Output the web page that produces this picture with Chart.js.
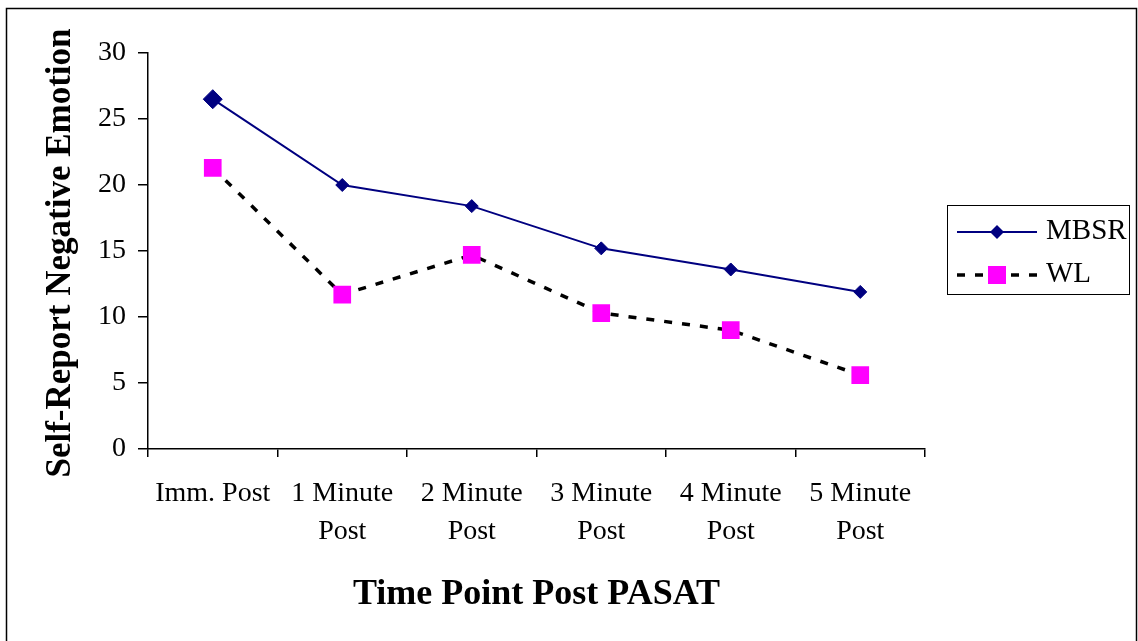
<!DOCTYPE html>
<html>
<head>
<meta charset="utf-8">
<script src="https://cdn.jsdelivr.net/npm/chart.js@4"></script>
<style>
  html, body { margin: 0; padding: 0; background: #fff; }
  #wrap { width: 1138px; height: 641px; position: relative; }
</style>
</head>
<body>
<div id="wrap"><canvas id="chart" width="1138" height="641"></canvas></div>
<script>
// --- данные ---
const categories = [['Imm. Post'], ['1 Minute', 'Post'], ['2 Minute', 'Post'], ['3 Minute', 'Post'], ['4 Minute', 'Post'], ['5 Minute', 'Post']];
const mbsrValues = [26.5, 20.0, 18.4, 15.2, 13.6, 11.9];
const wlValues = [21.3, 11.7, 14.7, 10.3, 9.0, 5.6];
const yTicks = [0, 5, 10, 15, 20, 25, 30];

const FONT = '"Liberation Serif", "Times New Roman", serif';

// рамка, подписи осей и легенда рисуются вручную
const decorPlugin = {
  id: 'decor',
  afterDraw(chart) {
    const ctx = chart.ctx;
    const area = chart.chartArea;
    ctx.save();
    // внешняя рамка
    ctx.strokeStyle = '#000';
    ctx.lineWidth = 1.5;
    ctx.strokeRect(6.5, 8.5, 1130, 660);

    // заголовок оси X
    ctx.fillStyle = '#000';
    ctx.font = 'bold 36px ' + FONT;
    ctx.textAlign = 'center';
    ctx.textBaseline = 'alphabetic';
    ctx.fillText('Time Point Post PASAT', (area.left + area.right) / 2, 604);

    // заголовок оси Y
    ctx.save();
    ctx.translate(70, 253);
    ctx.rotate(-Math.PI / 2);
    ctx.font = 'bold 35px ' + FONT;
    ctx.fillText('Self-Report Negative Emotion', 0, 0);
    ctx.restore();

    // легенда
    ctx.lineWidth = 1;
    ctx.strokeStyle = '#000';
    ctx.strokeRect(947.5, 205.5, 182, 89);
    ctx.font = '29px ' + FONT;
    ctx.textAlign = 'left';
    ctx.textBaseline = 'middle';

    // MBSR
    ctx.strokeStyle = '#000080';
    ctx.lineWidth = 2;
    ctx.beginPath(); ctx.moveTo(957, 232); ctx.lineTo(1037, 232); ctx.stroke();
    ctx.fillStyle = '#000080';
    ctx.beginPath();
    ctx.moveTo(997, 225); ctx.lineTo(1004, 232); ctx.lineTo(997, 239); ctx.lineTo(990, 232);
    ctx.closePath(); ctx.fill();
    ctx.fillStyle = '#000';
    ctx.fillText('MBSR', 1046, 231);

    // WL
    ctx.strokeStyle = '#000';
    ctx.lineWidth = 3.5;
    ctx.setLineDash([8, 10]);
    ctx.beginPath(); ctx.moveTo(957, 275); ctx.lineTo(1037, 275); ctx.stroke();
    ctx.setLineDash([]);
    ctx.fillStyle = '#ff00ff';
    ctx.fillRect(988, 266, 18, 18);
    ctx.fillStyle = '#000';
    ctx.fillText('WL', 1046, 274);
    ctx.restore();
  }
};

new Chart(document.getElementById('chart'), {
  type: 'line',
  data: {
    labels: categories,
    datasets: [
      {
        label: 'MBSR',
        data: mbsrValues,
        borderColor: '#000080',
        backgroundColor: '#000080',
        borderWidth: 2,
        pointStyle: 'rectRot',
        pointRadius: [9.5, 6.5, 6.5, 6.5, 6.5, 6.5],
        pointBorderWidth: 1,
        tension: 0
      },
      {
        label: 'WL',
        data: wlValues,
        borderColor: '#000',
        backgroundColor: '#ff00ff',
        pointBorderColor: '#ff00ff',
        borderWidth: 3.5,
        borderDash: [8, 10],
        pointStyle: 'rect',
        pointRadius: 12.5,
        pointBorderWidth: 0,
        tension: 0
      }
    ]
  },
  options: {
    responsive: false,
    animation: false,
    layout: { padding: { left: 0, right: 213, top: 53, bottom: 0 } },
    plugins: { legend: { display: false }, tooltip: { enabled: false } },
    scales: {
      x: {
        offset: true,
        grid: { offset: true, drawOnChartArea: false, color: '#000', tickLength: 8, lineWidth: 1.5 },
        border: { color: '#000', width: 1.5 },
        ticks: { color: '#000', font: { family: FONT, size: 28, lineHeight: '38px' }, padding: 18, maxRotation: 0, autoSkip: false },
        afterFit(scale) { scale.height = 192; }
      },
      y: {
        min: 0,
        max: 30,
        afterBuildTicks(scale) { scale.ticks = yTicks.map(v => ({ value: v })); },
        grid: { drawOnChartArea: false, color: '#000', tickLength: 10, lineWidth: 1.5 },
        border: { color: '#000', width: 1.5 },
        ticks: { color: '#000', font: { family: FONT, size: 28 }, padding: 12 },
        afterFit(scale) { scale.width = 148; }
      }
    }
  },
  plugins: [decorPlugin]
});
</script>
</body>
</html>
